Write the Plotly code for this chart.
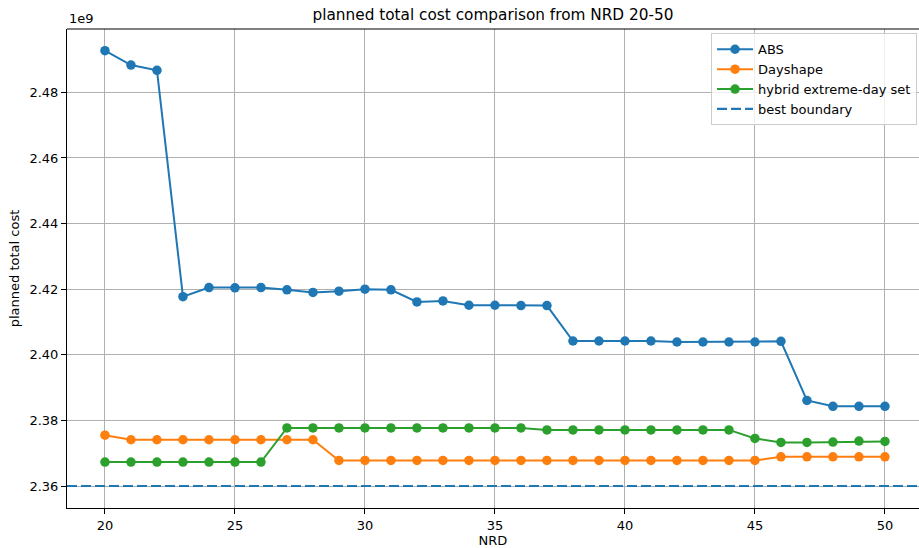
import plotly.graph_objects as go

nrd = list(range(20, 51))

# values in units of 1e9
abs_cost = [2.4927, 2.4883, 2.4867, 2.4177, 2.4205, 2.4204, 2.4205, 2.4198, 2.4190, 2.4194,
            2.4200, 2.4198, 2.4161, 2.4164, 2.4151, 2.4151, 2.4150, 2.4150, 2.4042, 2.4042,
            2.4042, 2.4042, 2.4039, 2.4039, 2.4039, 2.4039, 2.4041, 2.3861, 2.3843, 2.3843,
            2.3843]
dayshape_cost = [2.3755, 2.3741, 2.3741, 2.3741, 2.3741, 2.3741, 2.3741, 2.3741, 2.3741, 2.3678,
                 2.3678, 2.3678, 2.3678, 2.3678, 2.3678, 2.3678, 2.3678, 2.3678, 2.3678, 2.3678,
                 2.3678, 2.3678, 2.3678, 2.3678, 2.3678, 2.3678, 2.3689, 2.3689, 2.3689, 2.3689,
                 2.3689]
hybrid_cost = [2.3673, 2.3673, 2.3673, 2.3673, 2.3673, 2.3673, 2.3673, 2.3777, 2.3777, 2.3777,
               2.3777, 2.3777, 2.3777, 2.3777, 2.3777, 2.3777, 2.3777, 2.3771, 2.3771, 2.3771,
               2.3771, 2.3771, 2.3771, 2.3771, 2.3771, 2.3745, 2.3733, 2.3733, 2.3734, 2.3737,
               2.3736]
best_boundary = 2.3600

x_ticks = [20, 25, 30, 35, 40, 45, 50]
y_ticks = [2.36, 2.38, 2.40, 2.42, 2.44, 2.46, 2.48]

FONT = "DejaVu Sans"

fig = go.Figure()
series = [("ABS", abs_cost, "#1f77b4"),
          ("Dayshape", dayshape_cost, "#ff7f0e"),
          ("hybrid extreme-day set", hybrid_cost, "#2ca02c")]
for name, vals, col in series:
    fig.add_trace(go.Scatter(x=nrd, y=vals, mode="lines+markers", name=name,
                             line=dict(color=col, width=2),
                             marker=dict(color=col, size=9.5)))

fig.add_shape(type="line", xref="x domain", yref="y", x0=0, x1=1,
              y0=best_boundary, y1=best_boundary,
              line=dict(color="#1f77b4", width=2.2, dash="10px,4px"),
              showlegend=True, name="best boundary", layer="above")
# top spine
fig.add_shape(type="line", xref="x domain", yref="paper", x0=0, x1=1, y0=1, y1=1,
              line=dict(color="black", width=1), layer="above")

fig.update_layout(
    width=919, height=548,
    margin=dict(l=67, r=0, t=29, b=40),
    paper_bgcolor="white", plot_bgcolor="white",
    font=dict(family=FONT, size=13, color="black"),
    title=dict(text="planned total cost comparison from NRD 20-50",
               x=(67 + 919) / 2 / 919, xanchor="center", y=1 - 15 / 548, yanchor="middle",
               font=dict(size=15.3)),
    legend=dict(x=0.9977, y=0.991, xanchor="right", yanchor="top",
                bgcolor="rgba(255,255,255,0.8)", bordercolor="#cccccc", borderwidth=1,
                font=dict(size=13), tracegroupgap=0, itemwidth=36),
    showlegend=True,
)
fig.update_xaxes(range=[18.54, 51.31], tickvals=x_ticks, ticks="outside", ticklen=5,
                 tickcolor="black", showline=True, linecolor="black", linewidth=1,
                 mirror=False, showgrid=True, gridcolor="#b0b0b0", gridwidth=0.8,
                 zeroline=False, title=dict(text="NRD", standoff=6, font=dict(size=13)))
fig.update_yaxes(range=[2.3533, 2.4993], tickvals=y_ticks, tickformat=".2f", ticks="outside",
                 ticklen=5, tickcolor="black", showline=True, linecolor="black", linewidth=1,
                 mirror=False, showgrid=True, gridcolor="#b0b0b0", gridwidth=0.8,
                 zeroline=False, title=dict(text="planned total cost", standoff=6,
                                            font=dict(size=13)))
fig.add_annotation(text="1e9", xref="paper", yref="paper", x=0, y=1, xanchor="left",
                   yanchor="bottom", yshift=1, showarrow=False, font=dict(size=13))

fig.write_html("out.html")
